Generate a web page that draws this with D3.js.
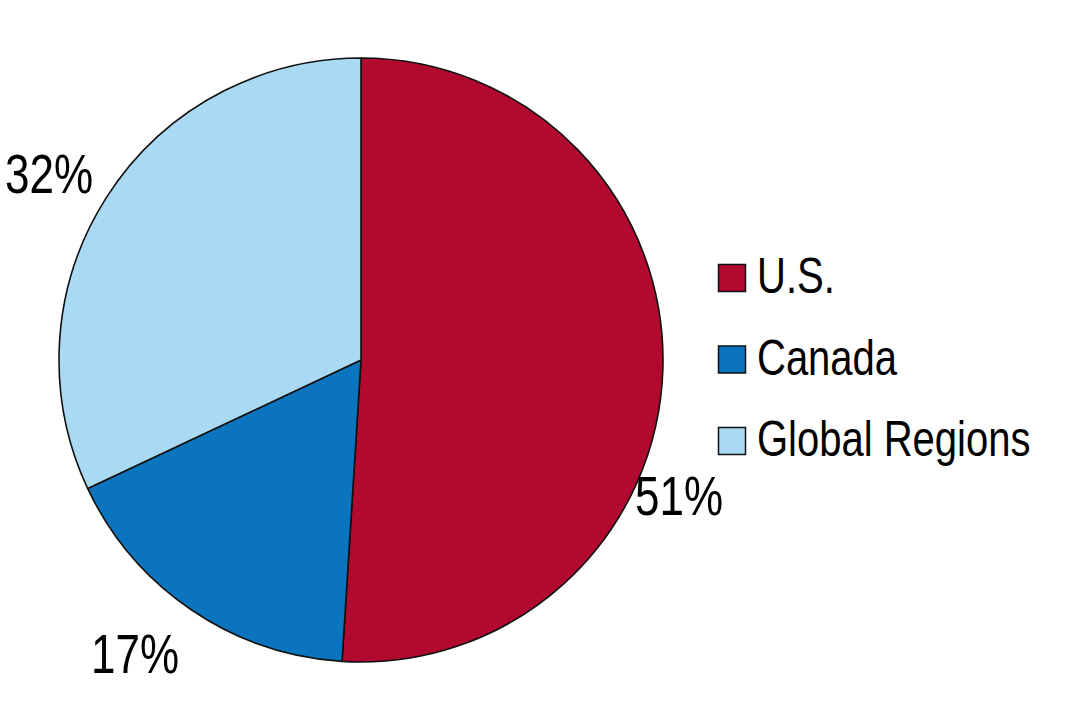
<!DOCTYPE html>
<html><head><meta charset="utf-8">
<script src="https://cdn.jsdelivr.net/npm/d3@7/dist/d3.min.js"></script>
<style>body{margin:0;background:#fff}svg{display:block}text{font-family:"Liberation Sans",Arial,sans-serif;fill:#000}</style>
</head><body><svg id="c" width="1066" height="720"></svg>
<script>
const categories = ["U.S.", "Canada", "Global Regions"];
const values = [51, 17, 32];
const labels = ["51%", "17%", "32%"];
const colors = ["#B20A2F", "#0A75BE", "#A9D9F3"];

// layout (not data)
const cx = 361, cy = 360, R = 302;
const labelXY = [[679, 515], [135, 673], [49, 193]];

const svg = d3.select("#c");
const pie = d3.pie().sort(null).value(d => d)(values);
const arc = d3.arc().innerRadius(0).outerRadius(R);
const g = svg.append("g").attr("transform", `translate(${cx},${cy})`);
g.selectAll("path").data(pie).join("path")
  .attr("d", arc).attr("fill", (d, i) => colors[i])
  .attr("stroke", "#111").attr("stroke-width", 1.6).attr("stroke-linejoin", "round");

svg.selectAll("text.lab").data(labels).join("text").attr("class", "lab")
  .attr("transform", (d, i) => `translate(${labelXY[i][0]},${labelXY[i][1]}) scale(0.8,1)`)
  .attr("text-anchor", "middle").attr("font-size", 55).text(d => d);

const leg = svg.append("g");
const ly = d3.scalePoint().domain(categories).range([278, 441]);
categories.forEach((c, i) => {
  leg.append("rect").attr("x", 718.5).attr("y", ly(c) - 13.5).attr("width", 27).attr("height", 27)
    .attr("fill", colors[i]).attr("stroke", "#111").attr("stroke-width", 1.5);
  leg.append("text").attr("transform", `translate(757,${ly(c) + 15}) scale(0.8,1)`)
    .attr("font-size", 50).text(c);
});
</script></body></html>
